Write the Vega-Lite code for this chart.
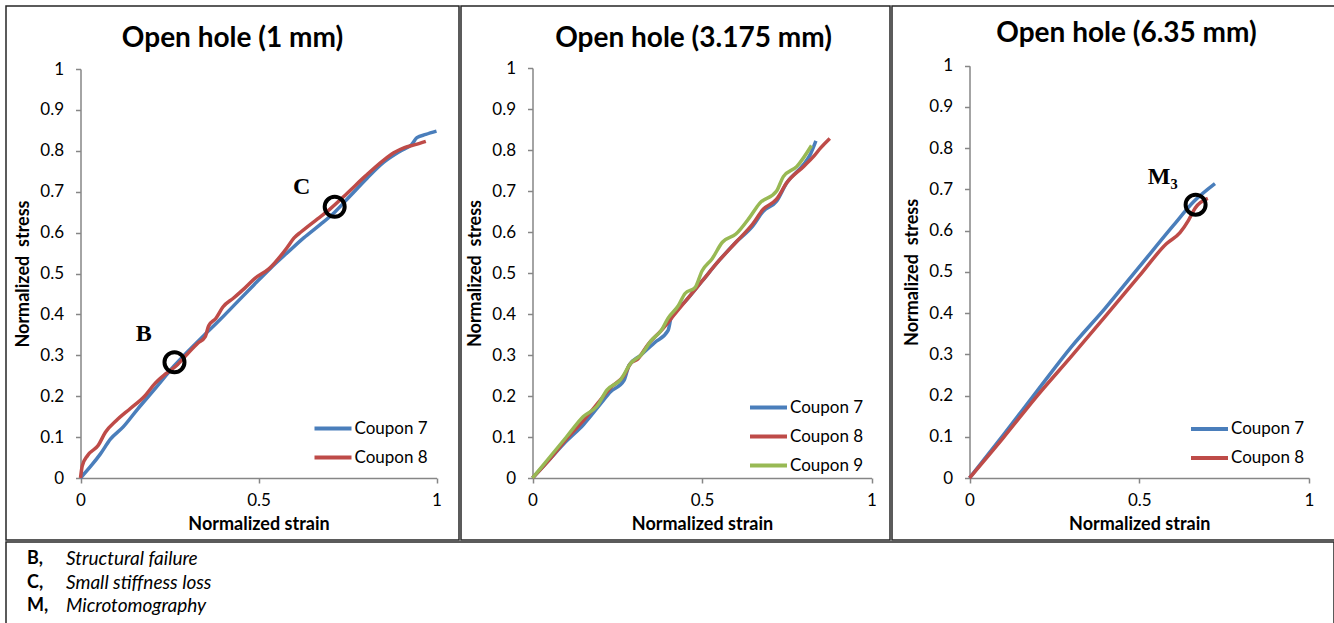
{
  "$schema": "https://vega.github.io/schema/vega-lite/v6.json",
  "background": "white",
  "padding": {"left": 5, "top": 5, "right": 0, "bottom": 0},
  "spacing": 0,
  "config": {
    "font": "Lato",
    "view": {"stroke": "#262626", "strokeWidth": 1.5},
    "axis": {
      "domainColor": "#868686", "domainWidth": 1.5, "tickColor": "#868686", "tickWidth": 1.5, "tickSize": 5,
      "grid": false, "labelFont": "Lato", "labelFontSize": 17, "labelColor": "#000000", "labelFlush": false,
      "labelOverlap": false, "titleFont": "Lato", "titleFontSize": 18, "titleFontWeight": "bold", "titleColor": "#000000"
    },
    "axisX": {"labelPadding": 9, "titlePadding": 7},
    "axisY": {"labelPadding": 12, "titlePadding": 7},
    "title": {"font": "Lato", "fontSize": 28, "fontWeight": "bold", "color": "#000000", "anchor": "middle", "baseline": "middle"},
    "legend": {"padding": 0, "symbolType": "stroke", "symbolSize": 1369, "symbolStrokeWidth": 4, "labelFont": "Lato", "labelFontSize": 17, "labelColor": "#000000", "labelOffset": 1}
  },
  "datasets": {
    "curves": [
      {"panel": 1, "coupon": "Coupon 7", "x": 0, "y": 0},
      {"panel": 1, "coupon": "Coupon 7", "x": 0.03, "y": 0.03},
      {"panel": 1, "coupon": "Coupon 7", "x": 0.056, "y": 0.059},
      {"panel": 1, "coupon": "Coupon 7", "x": 0.084, "y": 0.095},
      {"panel": 1, "coupon": "Coupon 7", "x": 0.12, "y": 0.125},
      {"panel": 1, "coupon": "Coupon 7", "x": 0.16, "y": 0.168},
      {"panel": 1, "coupon": "Coupon 7", "x": 0.206, "y": 0.215},
      {"panel": 1, "coupon": "Coupon 7", "x": 0.264, "y": 0.275},
      {"panel": 1, "coupon": "Coupon 7", "x": 0.3, "y": 0.308},
      {"panel": 1, "coupon": "Coupon 7", "x": 0.346, "y": 0.348},
      {"panel": 1, "coupon": "Coupon 7", "x": 0.393, "y": 0.388},
      {"panel": 1, "coupon": "Coupon 7", "x": 0.44, "y": 0.43},
      {"panel": 1, "coupon": "Coupon 7", "x": 0.487, "y": 0.472},
      {"panel": 1, "coupon": "Coupon 7", "x": 0.534, "y": 0.513},
      {"panel": 1, "coupon": "Coupon 7", "x": 0.58, "y": 0.55},
      {"panel": 1, "coupon": "Coupon 7", "x": 0.627, "y": 0.587},
      {"panel": 1, "coupon": "Coupon 7", "x": 0.674, "y": 0.62},
      {"panel": 1, "coupon": "Coupon 7", "x": 0.714, "y": 0.65},
      {"panel": 1, "coupon": "Coupon 7", "x": 0.758, "y": 0.69},
      {"panel": 1, "coupon": "Coupon 7", "x": 0.805, "y": 0.733},
      {"panel": 1, "coupon": "Coupon 7", "x": 0.852, "y": 0.772},
      {"panel": 1, "coupon": "Coupon 7", "x": 0.9, "y": 0.8},
      {"panel": 1, "coupon": "Coupon 7", "x": 0.93, "y": 0.815},
      {"panel": 1, "coupon": "Coupon 7", "x": 0.945, "y": 0.832},
      {"panel": 1, "coupon": "Coupon 7", "x": 0.97, "y": 0.84},
      {"panel": 1, "coupon": "Coupon 7", "x": 1.0, "y": 0.848},
      {"panel": 1, "coupon": "Coupon 8", "x": 0, "y": 0},
      {"panel": 1, "coupon": "Coupon 8", "x": 0.005, "y": 0.03},
      {"panel": 1, "coupon": "Coupon 8", "x": 0.02, "y": 0.055},
      {"panel": 1, "coupon": "Coupon 8", "x": 0.05, "y": 0.08},
      {"panel": 1, "coupon": "Coupon 8", "x": 0.07, "y": 0.112},
      {"panel": 1, "coupon": "Coupon 8", "x": 0.1, "y": 0.14},
      {"panel": 1, "coupon": "Coupon 8", "x": 0.14, "y": 0.17},
      {"panel": 1, "coupon": "Coupon 8", "x": 0.18, "y": 0.2},
      {"panel": 1, "coupon": "Coupon 8", "x": 0.21, "y": 0.232},
      {"panel": 1, "coupon": "Coupon 8", "x": 0.24, "y": 0.255},
      {"panel": 1, "coupon": "Coupon 8", "x": 0.27, "y": 0.275},
      {"panel": 1, "coupon": "Coupon 8", "x": 0.3, "y": 0.303},
      {"panel": 1, "coupon": "Coupon 8", "x": 0.33, "y": 0.33},
      {"panel": 1, "coupon": "Coupon 8", "x": 0.35, "y": 0.345},
      {"panel": 1, "coupon": "Coupon 8", "x": 0.36, "y": 0.372},
      {"panel": 1, "coupon": "Coupon 8", "x": 0.38, "y": 0.39},
      {"panel": 1, "coupon": "Coupon 8", "x": 0.4, "y": 0.418},
      {"panel": 1, "coupon": "Coupon 8", "x": 0.43, "y": 0.44},
      {"panel": 1, "coupon": "Coupon 8", "x": 0.46, "y": 0.463},
      {"panel": 1, "coupon": "Coupon 8", "x": 0.49, "y": 0.488},
      {"panel": 1, "coupon": "Coupon 8", "x": 0.53, "y": 0.512},
      {"panel": 1, "coupon": "Coupon 8", "x": 0.58, "y": 0.563},
      {"panel": 1, "coupon": "Coupon 8", "x": 0.6, "y": 0.587},
      {"panel": 1, "coupon": "Coupon 8", "x": 0.62, "y": 0.602},
      {"panel": 1, "coupon": "Coupon 8", "x": 0.665, "y": 0.633},
      {"panel": 1, "coupon": "Coupon 8", "x": 0.7, "y": 0.657},
      {"panel": 1, "coupon": "Coupon 8", "x": 0.75, "y": 0.697},
      {"panel": 1, "coupon": "Coupon 8", "x": 0.8, "y": 0.738},
      {"panel": 1, "coupon": "Coupon 8", "x": 0.85, "y": 0.776},
      {"panel": 1, "coupon": "Coupon 8", "x": 0.88, "y": 0.795},
      {"panel": 1, "coupon": "Coupon 8", "x": 0.91, "y": 0.808},
      {"panel": 1, "coupon": "Coupon 8", "x": 0.94, "y": 0.815},
      {"panel": 1, "coupon": "Coupon 8", "x": 0.97, "y": 0.823},
      {"panel": 2, "coupon": "Coupon 7", "x": 0, "y": 0},
      {"panel": 2, "coupon": "Coupon 7", "x": 0.05, "y": 0.045},
      {"panel": 2, "coupon": "Coupon 7", "x": 0.1, "y": 0.09},
      {"panel": 2, "coupon": "Coupon 7", "x": 0.15, "y": 0.13},
      {"panel": 2, "coupon": "Coupon 7", "x": 0.2, "y": 0.18},
      {"panel": 2, "coupon": "Coupon 7", "x": 0.23, "y": 0.21},
      {"panel": 2, "coupon": "Coupon 7", "x": 0.27, "y": 0.238},
      {"panel": 2, "coupon": "Coupon 7", "x": 0.285, "y": 0.275},
      {"panel": 2, "coupon": "Coupon 7", "x": 0.32, "y": 0.3},
      {"panel": 2, "coupon": "Coupon 7", "x": 0.36, "y": 0.33},
      {"panel": 2, "coupon": "Coupon 7", "x": 0.4, "y": 0.36},
      {"panel": 2, "coupon": "Coupon 7", "x": 0.41, "y": 0.395},
      {"panel": 2, "coupon": "Coupon 7", "x": 0.45, "y": 0.43},
      {"panel": 2, "coupon": "Coupon 7", "x": 0.5, "y": 0.48},
      {"panel": 2, "coupon": "Coupon 7", "x": 0.55, "y": 0.53},
      {"panel": 2, "coupon": "Coupon 7", "x": 0.6, "y": 0.575},
      {"panel": 2, "coupon": "Coupon 7", "x": 0.65, "y": 0.615},
      {"panel": 2, "coupon": "Coupon 7", "x": 0.68, "y": 0.65},
      {"panel": 2, "coupon": "Coupon 7", "x": 0.72, "y": 0.675},
      {"panel": 2, "coupon": "Coupon 7", "x": 0.75, "y": 0.72},
      {"panel": 2, "coupon": "Coupon 7", "x": 0.8, "y": 0.765},
      {"panel": 2, "coupon": "Coupon 7", "x": 0.82, "y": 0.79},
      {"panel": 2, "coupon": "Coupon 7", "x": 0.836, "y": 0.822},
      {"panel": 2, "coupon": "Coupon 8", "x": 0, "y": 0},
      {"panel": 2, "coupon": "Coupon 8", "x": 0.05, "y": 0.045},
      {"panel": 2, "coupon": "Coupon 8", "x": 0.1, "y": 0.095},
      {"panel": 2, "coupon": "Coupon 8", "x": 0.15, "y": 0.14},
      {"panel": 2, "coupon": "Coupon 8", "x": 0.2, "y": 0.19},
      {"panel": 2, "coupon": "Coupon 8", "x": 0.23, "y": 0.22},
      {"panel": 2, "coupon": "Coupon 8", "x": 0.27, "y": 0.25},
      {"panel": 2, "coupon": "Coupon 8", "x": 0.29, "y": 0.28},
      {"panel": 2, "coupon": "Coupon 8", "x": 0.31, "y": 0.29},
      {"panel": 2, "coupon": "Coupon 8", "x": 0.34, "y": 0.325},
      {"panel": 2, "coupon": "Coupon 8", "x": 0.38, "y": 0.36},
      {"panel": 2, "coupon": "Coupon 8", "x": 0.42, "y": 0.4},
      {"panel": 2, "coupon": "Coupon 8", "x": 0.46, "y": 0.44},
      {"panel": 2, "coupon": "Coupon 8", "x": 0.5, "y": 0.48},
      {"panel": 2, "coupon": "Coupon 8", "x": 0.55, "y": 0.53},
      {"panel": 2, "coupon": "Coupon 8", "x": 0.6, "y": 0.575},
      {"panel": 2, "coupon": "Coupon 8", "x": 0.65, "y": 0.62},
      {"panel": 2, "coupon": "Coupon 8", "x": 0.68, "y": 0.655},
      {"panel": 2, "coupon": "Coupon 8", "x": 0.72, "y": 0.68},
      {"panel": 2, "coupon": "Coupon 8", "x": 0.75, "y": 0.72},
      {"panel": 2, "coupon": "Coupon 8", "x": 0.8, "y": 0.76},
      {"panel": 2, "coupon": "Coupon 8", "x": 0.83, "y": 0.785},
      {"panel": 2, "coupon": "Coupon 8", "x": 0.85, "y": 0.805},
      {"panel": 2, "coupon": "Coupon 8", "x": 0.877, "y": 0.828},
      {"panel": 2, "coupon": "Coupon 9", "x": 0, "y": 0},
      {"panel": 2, "coupon": "Coupon 9", "x": 0.05, "y": 0.05},
      {"panel": 2, "coupon": "Coupon 9", "x": 0.1, "y": 0.1},
      {"panel": 2, "coupon": "Coupon 9", "x": 0.15, "y": 0.15},
      {"panel": 2, "coupon": "Coupon 9", "x": 0.19, "y": 0.175},
      {"panel": 2, "coupon": "Coupon 9", "x": 0.22, "y": 0.215},
      {"panel": 2, "coupon": "Coupon 9", "x": 0.26, "y": 0.24},
      {"panel": 2, "coupon": "Coupon 9", "x": 0.29, "y": 0.28},
      {"panel": 2, "coupon": "Coupon 9", "x": 0.32, "y": 0.3},
      {"panel": 2, "coupon": "Coupon 9", "x": 0.35, "y": 0.335},
      {"panel": 2, "coupon": "Coupon 9", "x": 0.38, "y": 0.36},
      {"panel": 2, "coupon": "Coupon 9", "x": 0.4, "y": 0.39},
      {"panel": 2, "coupon": "Coupon 9", "x": 0.43, "y": 0.42},
      {"panel": 2, "coupon": "Coupon 9", "x": 0.45, "y": 0.45},
      {"panel": 2, "coupon": "Coupon 9", "x": 0.48, "y": 0.465},
      {"panel": 2, "coupon": "Coupon 9", "x": 0.5, "y": 0.505},
      {"panel": 2, "coupon": "Coupon 9", "x": 0.53, "y": 0.535},
      {"panel": 2, "coupon": "Coupon 9", "x": 0.56, "y": 0.575},
      {"panel": 2, "coupon": "Coupon 9", "x": 0.6, "y": 0.595},
      {"panel": 2, "coupon": "Coupon 9", "x": 0.64, "y": 0.635},
      {"panel": 2, "coupon": "Coupon 9", "x": 0.67, "y": 0.67},
      {"panel": 2, "coupon": "Coupon 9", "x": 0.72, "y": 0.7},
      {"panel": 2, "coupon": "Coupon 9", "x": 0.74, "y": 0.735},
      {"panel": 2, "coupon": "Coupon 9", "x": 0.78, "y": 0.76},
      {"panel": 2, "coupon": "Coupon 9", "x": 0.823, "y": 0.811},
      {"panel": 3, "coupon": "Coupon 7", "x": 0, "y": 0},
      {"panel": 3, "coupon": "Coupon 7", "x": 0.1, "y": 0.105},
      {"panel": 3, "coupon": "Coupon 7", "x": 0.2, "y": 0.212},
      {"panel": 3, "coupon": "Coupon 7", "x": 0.3, "y": 0.318},
      {"panel": 3, "coupon": "Coupon 7", "x": 0.4, "y": 0.412},
      {"panel": 3, "coupon": "Coupon 7", "x": 0.5, "y": 0.512},
      {"panel": 3, "coupon": "Coupon 7", "x": 0.6, "y": 0.612},
      {"panel": 3, "coupon": "Coupon 7", "x": 0.66, "y": 0.67},
      {"panel": 3, "coupon": "Coupon 7", "x": 0.723, "y": 0.714},
      {"panel": 3, "coupon": "Coupon 8", "x": 0, "y": 0},
      {"panel": 3, "coupon": "Coupon 8", "x": 0.1, "y": 0.098},
      {"panel": 3, "coupon": "Coupon 8", "x": 0.2, "y": 0.2},
      {"panel": 3, "coupon": "Coupon 8", "x": 0.3, "y": 0.295},
      {"panel": 3, "coupon": "Coupon 8", "x": 0.4, "y": 0.392},
      {"panel": 3, "coupon": "Coupon 8", "x": 0.5, "y": 0.49},
      {"panel": 3, "coupon": "Coupon 8", "x": 0.58, "y": 0.568},
      {"panel": 3, "coupon": "Coupon 8", "x": 0.62, "y": 0.595},
      {"panel": 3, "coupon": "Coupon 8", "x": 0.645, "y": 0.625},
      {"panel": 3, "coupon": "Coupon 8", "x": 0.665, "y": 0.655},
      {"panel": 3, "coupon": "Coupon 8", "x": 0.702, "y": 0.678}
    ],
    "circles": [
      {"panel": 1, "x": 0.264, "y": 0.283},
      {"panel": 1, "x": 0.714, "y": 0.663},
      {"panel": 3, "x": 0.666, "y": 0.663}
    ],
    "notes": [
      {"panel": 1, "label": "B", "x": 0.178, "y": 0.351},
      {"panel": 1, "label": "C", "x": 0.621, "y": 0.711},
      {"panel": 3, "label": "M₃", "x": 0.569, "y": 0.73}
    ],
    "footnote": [
      {"row": 1, "key": "B,", "desc": "Structural failure"},
      {"row": 2, "key": "C,", "desc": "Small stiffness loss"},
      {"row": 3, "key": "M,", "desc": "Microtomography"}
    ]
  },
  "vconcat": [
    {
      "spacing": 0,
      "resolve": {"scale": {"x": "independent", "y": "independent", "color": "independent"}, "legend": {"color": "independent"}},
      "hconcat": [
        {
          "width": 453, "height": 534,
          "title": {"text": "Open hole (1 mm)", "offset": -47, "dx": 0},
          "encoding": {
            "x": {"field": "x", "type": "quantitative", "scale": {"domain": [0, 1], "range": [74.5, 430.5], "nice": false, "zero": false},
                  "axis": {"offset": -62, "values": [0, 0.5, 1], "format": "~g", "title": "Normalized strain"}},
            "y": {"field": "y", "type": "quantitative", "scale": {"domain": [0, 1], "range": [472, 63], "nice": false, "zero": false},
                  "axis": {"offset": -74.5, "values": [0, 0.1, 0.2, 0.3, 0.4, 0.5, 0.6, 0.7, 0.8, 0.9, 1], "format": "~g", "title": "Normalized\u00a0 stress"}}
          },
          "layer": [
            {
              "data": {"name": "curves"},
              "transform": [{"filter": "datum.panel == 1"}],
              "mark": {"type": "line", "strokeWidth": 3.5, "interpolate": "monotone"},
              "encoding": {
                "color": {"field": "coupon", "type": "nominal",
                          "scale": {"domain": ["Coupon 7", "Coupon 8"], "range": ["#4A7EBB", "#BE4B48"]},
                          "legend": {"title": null, "orient": "none", "legendX": 306.5, "legendY": 402, "rowPadding": -7}}
              }
            },
            {
              "data": {"name": "circles"},
              "transform": [{"filter": "datum.panel == 1"}],
              "mark": {"type": "point", "shape": "circle", "size": 400, "strokeWidth": 4, "color": "#000000", "opacity": 1, "filled": false}
            },
            {
              "data": {"name": "notes"},
              "transform": [{"filter": "datum.panel == 1"}],
              "mark": {"type": "text", "font": "Liberation Serif", "fontWeight": "bold", "fontSize": 24, "color": "#000000"},
              "encoding": {"text": {"field": "label"}}
            }
          ]
        },
        {
          "width": 429, "height": 534,
          "title": {"text": "Open hole (3.175 mm)", "offset": -47, "dx": 18},
          "encoding": {
            "x": {"field": "x", "type": "quantitative", "scale": {"domain": [0, 1], "range": [71.5, 410.5], "nice": false, "zero": false},
                  "axis": {"offset": -62, "values": [0, 0.5, 1], "format": "~g", "title": "Normalized strain"}},
            "y": {"field": "y", "type": "quantitative", "scale": {"domain": [0, 1], "range": [472, 62], "nice": false, "zero": false},
                  "axis": {"offset": -71.5, "values": [0, 0.1, 0.2, 0.3, 0.4, 0.5, 0.6, 0.7, 0.8, 0.9, 1], "format": "~g", "title": "Normalized\u00a0 stress"}}
          },
          "layer": [
            {
              "data": {"name": "curves"},
              "transform": [{"filter": "datum.panel == 2"}],
              "mark": {"type": "line", "strokeWidth": 3.5, "interpolate": "monotone"},
              "encoding": {
                "color": {"field": "coupon", "type": "nominal",
                          "scale": {"domain": ["Coupon 7", "Coupon 8", "Coupon 9"], "range": ["#4A7EBB", "#BE4B48", "#98B954"]},
                          "legend": {"title": null, "orient": "none", "legendX": 287, "legendY": 381, "rowPadding": -9.6}}
              }
            }
          ]
        },
        {
          "width": 443, "height": 534,
          "title": {"text": "Open hole (6.35 mm)", "offset": -41.5, "dx": 13},
          "encoding": {
            "x": {"field": "x", "type": "quantitative", "scale": {"domain": [0, 1], "range": [77.5, 417], "nice": false, "zero": false},
                  "axis": {"offset": -62, "values": [0, 0.5, 1], "format": "~g", "title": "Normalized strain"}},
            "y": {"field": "y", "type": "quantitative", "scale": {"domain": [0, 1], "range": [472, 59.7], "nice": false, "zero": false},
                  "axis": {"offset": -77.5, "values": [0, 0.1, 0.2, 0.3, 0.4, 0.5, 0.6, 0.7, 0.8, 0.9, 1], "format": "~g", "title": "Normalized\u00a0 stress"}}
          },
          "layer": [
            {
              "data": {"name": "curves"},
              "transform": [{"filter": "datum.panel == 3"}],
              "mark": {"type": "line", "strokeWidth": 3.5, "interpolate": "monotone"},
              "encoding": {
                "color": {"field": "coupon", "type": "nominal",
                          "scale": {"domain": ["Coupon 7", "Coupon 8"], "range": ["#4A7EBB", "#BE4B48"]},
                          "legend": {"title": null, "orient": "none", "legendX": 297, "legendY": 402.5, "rowPadding": -9.5}}
              }
            },
            {
              "data": {"name": "circles"},
              "transform": [{"filter": "datum.panel == 3"}],
              "mark": {"type": "point", "shape": "circle", "size": 400, "strokeWidth": 4, "color": "#000000", "opacity": 1, "filled": false}
            },
            {
              "data": {"name": "notes"},
              "transform": [{"filter": "datum.panel == 3"}],
              "mark": {"type": "text", "font": "Liberation Serif", "fontWeight": "bold", "fontSize": 24, "color": "#000000"},
              "encoding": {"text": {"field": "label"}}
            }
          ]
        }
      ]
    },
    {
      "width": 1328, "height": 83,
      "data": {"name": "footnote"},
      "encoding": {
        "y": {"field": "row", "type": "ordinal", "axis": null, "scale": {"type": "point", "padding": 0.78}},
        "x": {"datum": 0, "type": "quantitative", "scale": {"domain": [0, 1]}, "axis": null}
      },
      "layer": [
        {"mark": {"type": "text", "align": "left", "baseline": "middle", "dx": 21, "dy": -1, "font": "Lato", "fontWeight": "bold", "fontSize": 18, "color": "#000000"},
         "encoding": {"text": {"field": "key"}}},
        {"mark": {"type": "text", "align": "left", "baseline": "middle", "dx": 60, "dy": -1, "font": "Lato", "fontStyle": "italic", "fontSize": 19, "color": "#000000"},
         "encoding": {"text": {"field": "desc"}}}
      ]
    }
  ]
}
